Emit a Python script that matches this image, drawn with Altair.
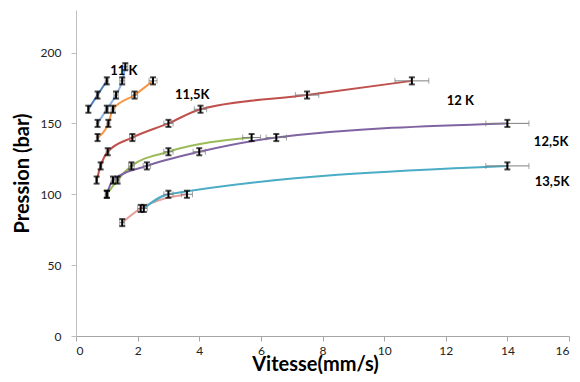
import altair as alt
import pandas as pd

# ---- data ----
series_names = ["11K", "11K-b", "11K-c", "12K", "12,5K-a", "12,5K-b", "13K", "13,5K"]
colors = ["#4A7EBB", "#8DB3E2", "#F79646", "#C0504D", "#9BBB59", "#8064A2", "#E6A09E", "#4BACC6"]

s1_x = [0.4, 0.7, 1.0]
s1_y = [160, 170, 180]
s1_xe = [0.02, 0.04, 0.05]

s2_x = [0.7, 1.0, 1.3, 1.5, 1.6]
s2_y = [150, 160, 170, 180, 190]
s2_xe = [0.04, 0.05, 0.07, 0.08, 0.08]

s3_x = [0.7, 1.05, 1.2, 1.9, 2.5]
s3_y = [140, 150, 160, 170, 180]
s3_xe = [0.04, 0.05, 0.06, 0.1, 0.13]

s4_x = [0.67, 0.8, 1.03, 1.83, 3.0, 4.04, 7.5, 10.9]
s4_y = [110, 120, 130, 140, 150, 160, 170, 180]
s4_xe = [0.03, 0.04, 0.05, 0.09, 0.15, 0.2, 0.38, 0.55]

s5_x = [1.0, 1.35, 1.8, 3.0, 5.7]
s5_y = [100, 110, 120, 130, 140]
s5_xe = [0.05, 0.07, 0.09, 0.15, 0.29]

s6_x = [1.0, 1.2, 2.3, 4.0, 6.5, 14.0]
s6_y = [100, 110, 120, 130, 140, 150]
s6_xe = [0.05, 0.06, 0.12, 0.2, 0.33, 0.7]

s7_x = [1.5, 2.1, 3.6]
s7_y = [80, 90, 100]
s7_xe = [0.08, 0.1, 0.18]

s8_x = [2.2, 3.0, 14.0]
s8_y = [90, 100, 120]
s8_xe = [0.11, 0.15, 0.7]

y_err = 2.5

label_text = ["11 K", "11,5K", "12 K", "12,5K", "13,5K"]
label_x = [1.55, 3.77, 12.47, 15.42, 15.45]
label_y = [187, 170, 166, 137, 109]

# ---- build table ----
all_x = [s1_x, s2_x, s3_x, s4_x, s5_x, s6_x, s7_x, s8_x]
all_y = [s1_y, s2_y, s3_y, s4_y, s5_y, s6_y, s7_y, s8_y]
all_xe = [s1_xe, s2_xe, s3_xe, s4_xe, s5_xe, s6_xe, s7_xe, s8_xe]
rows = []
for name, xs_, ys_, xe_ in zip(series_names, all_x, all_y, all_xe):
    for i, (x, y, e) in enumerate(zip(xs_, ys_, xe_)):
        rows.append(dict(s=name, i=i, x=x, y=y, xlo=x - e, xhi=x + e,
                         ylo=y - y_err, yhi=y + y_err))
df = pd.DataFrame(rows)
lab = pd.DataFrame(dict(t=label_text, x=label_x, y=label_y))

FONT = "Lato"
xsc = alt.Scale(domain=[0, 16], nice=False)
ysc = alt.Scale(domain=[0, 230], nice=False)
XAX = alt.Axis(values=list(range(0, 17, 2)), title="Vitesse(mm/s)", grid=False,
               domainColor="#A6A6A6", tickColor="#A6A6A6", tickSize=5,
               labelFontSize=12, labelFont=FONT, labelColor="#222222", labelPadding=4,
               titleFontSize=20, titleFont=FONT, titleFontWeight="bold",
               titleColor="black", titleX=239, titleY=34, titleAlign="center",
               titleBaseline="alphabetic")
YAX = alt.Axis(values=[0, 50, 100, 150, 200], title="Pression (bar)", grid=False,
               domainColor="#BFBFBF", tickColor="#BFBFBF", tickSize=5,
               labelFontSize=12, labelFont=FONT, labelColor="#222222", labelPadding=10,
               titleFontSize=20, titleFont=FONT, titleFontWeight="bold",
               titleColor="black", titlePadding=8)

base = alt.Chart(df)
col = alt.Color("s:N", scale=alt.Scale(domain=series_names, range=colors), legend=None)

lines = base.mark_line(interpolate="monotone", strokeWidth=2).encode(
    x=alt.X("x:Q", scale=xsc, axis=XAX),
    y=alt.Y("y:Q", scale=ysc, axis=YAX),
    color=col,
    order=alt.Order("i:Q"),
)

xerr = base.mark_rule(color="#7F7F7F", strokeWidth=1).encode(
    x=alt.X("xlo:Q", scale=xsc, axis=XAX), x2="xhi:Q",
    y=alt.Y("y:Q", scale=ysc, axis=YAX),
)
xcaps = base.transform_fold(["xlo", "xhi"], as_=["k", "v"]).mark_tick(
    orient="vertical", size=6, thickness=1, color="#7F7F7F").encode(
    x=alt.X("v:Q", scale=xsc, axis=XAX),
    y=alt.Y("y:Q", scale=ysc, axis=YAX),
)
yerr = base.mark_rule(color="black", strokeWidth=2).encode(
    x=alt.X("x:Q", scale=xsc, axis=XAX),
    y=alt.Y("ylo:Q", scale=ysc, axis=YAX), y2="yhi:Q",
)
ycaps = base.transform_fold(["ylo", "yhi"], as_=["k", "v"]).mark_tick(
    orient="horizontal", size=6, thickness=2, color="black").encode(
    x=alt.X("x:Q", scale=xsc, axis=XAX),
    y=alt.Y("v:Q", scale=ysc, axis=YAX),
)

labels = alt.Chart(lab).mark_text(font=FONT, fontSize=13, fontWeight="bold", color="black").encode(
    x=alt.X("x:Q", scale=xsc, axis=XAX),
    y=alt.Y("y:Q", scale=ysc, axis=YAX),
    text="t:N",
)

chart = alt.layer(lines, xerr, xcaps, yerr, ycaps, labels).properties(
    width=493, height=326, autosize="none",
    padding={"left": 68, "top": 2, "right": 3, "bottom": 38},
).configure_view(stroke=None)

chart.save("out.html", embed_options={"renderer": "svg", "actions": False})
